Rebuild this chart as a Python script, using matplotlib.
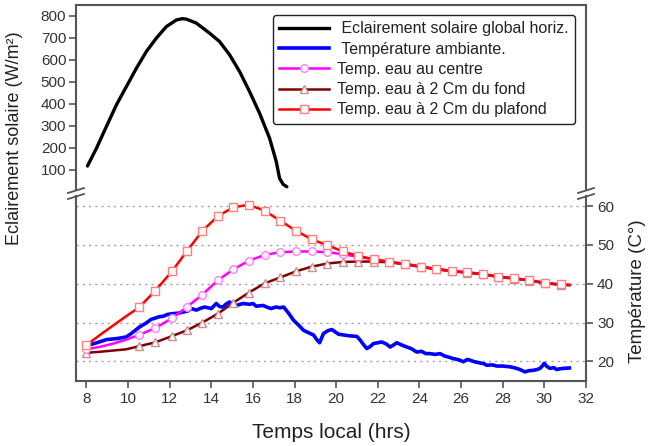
import numpy as np
import matplotlib
matplotlib.use('Agg')
import matplotlib.pyplot as plt
from matplotlib.lines import Line2D

plt.rcParams['font.family'] = ['Liberation Sans', 'DejaVu Sans']

# --- data ------------------------------------------------------------------
# global horizontal irradiance (W/m2)
t_sun = [8.05, 8.48, 8.96, 9.44, 9.92, 10.4, 10.88, 11.36, 11.84, 12.32, 12.6,
         12.8, 13.28, 13.92, 14.4, 14.88, 15.36, 15.84, 16.32, 16.8, 17.12,
         17.28, 17.45, 17.63]
g_sun = [118, 198, 297, 395, 478, 561, 637, 698, 750, 780, 786,
         784, 766, 720, 682, 622, 546, 455, 357, 244, 138,
         62, 35, 24]

# ambient temperature (C)
t_amb = [8.0, 8.5, 8.96, 9.5, 9.92, 10.16, 10.56, 10.88, 11.1, 11.28, 11.5,
         11.68, 11.9, 12.16, 12.4, 12.64, 12.88, 13.04, 13.28, 13.5, 13.68,
         14.0, 14.24, 14.4, 14.56, 14.72, 14.88, 15.04, 15.2, 15.52, 15.84,
         16.0, 16.16, 16.48, 16.7, 16.88, 17.1, 17.3, 17.47, 17.7, 17.95,
         18.2, 18.43, 18.7, 18.91, 19.05, 19.2, 19.39, 19.6, 19.79, 20.11,
         20.35, 20.6, 20.83, 21.0, 21.15, 21.3, 21.47, 21.65, 21.79, 22.0,
         22.19, 22.4, 22.59, 22.75, 22.91, 23.15, 23.39, 23.6, 23.87, 24.1,
         24.3, 24.51, 24.75, 24.99, 25.2, 25.4, 25.63, 25.9, 26.11, 26.3,
         26.43, 26.65, 26.91, 27.1, 27.23, 27.5, 27.71, 28.0, 28.35, 28.6,
         28.83, 29.07, 29.25, 29.47, 29.65, 29.79, 29.9, 29.99, 30.12, 30.27,
         30.45, 30.59, 30.75, 30.91, 31.2]
T_amb = [24.0, 24.8, 25.6, 25.9, 26.3, 27.2, 28.9, 29.9, 30.8, 31.1, 31.5,
         31.6, 32.1, 32.3, 32.4, 32.7, 33.0, 33.6, 33.2, 33.7, 34.0,
         33.6, 34.9, 34.1, 34.0, 34.8, 35.3, 34.6, 34.4, 34.9, 34.7,
         34.9, 34.2, 34.4, 33.9, 33.6, 34.0, 33.8, 34.0, 32.5, 30.6,
         29.3, 28.0, 27.3, 26.8, 25.7, 24.8, 27.2, 27.9, 28.2, 27.0,
         26.8, 26.6, 26.5, 26.4, 25.5, 24.4, 23.3, 23.9, 24.6, 24.8,
         25.0, 24.5, 23.7, 24.2, 24.8, 24.2, 23.7, 23.3, 22.4, 22.6,
         22.0, 22.0, 21.8, 22.0, 21.4, 21.1, 20.7, 20.4, 19.9, 20.5,
         20.3, 19.9, 19.6, 19.4, 19.0, 19.1, 18.8, 18.8, 18.6, 18.3,
         17.9, 17.3, 17.6, 17.7, 17.9, 18.2, 18.8, 19.5, 18.7, 18.2,
         18.4, 17.9, 18.1, 18.2, 18.3]

# times shared by the three water temperatures
t_w = [8.0, 8.7, 9.3, 9.9, 10.53, 11.31, 12.11, 12.83, 13.57, 14.32, 15.06,
       15.8, 16.56, 17.31, 18.08, 18.83, 19.58, 20.32, 21.07, 21.83, 22.56,
       23.31, 24.07, 24.8, 25.56, 26.3, 27.04, 27.79, 28.55, 29.28, 30.04,
       30.79, 31.2]
# red: 2 cm from the ceiling
T_top = [24.2, 27.0, 29.3, 31.6, 33.9, 38.2, 43.2, 48.4, 53.6, 57.4, 59.7,
         60.3, 58.8, 56.2, 53.6, 51.4, 49.9, 48.3, 47.1, 46.3, 45.6,
         45.1, 44.4, 43.8, 43.3, 42.9, 42.5, 41.8, 41.4, 40.9, 40.2,
         39.8, 39.7]
# magenta: centre
T_mid = [23.1, 23.8, 24.6, 25.6, 26.8, 28.6, 31.1, 34.0, 37.2, 40.9, 43.7,
         45.9, 47.4, 48.1, 48.3, 48.3, 48.1, 47.6, 46.9, 46.3, 45.6,
         45.1, 44.4, 43.8, 43.3, 42.9, 42.5, 41.8, 41.4, 40.9, 40.2,
         39.8, 39.7]
# brown: 2 cm from the bottom
T_bot = [22.2, 22.5, 22.8, 23.1, 23.9, 24.9, 26.5, 28.0, 30.0, 32.3, 35.1,
         37.7, 40.1, 41.6, 43.2, 44.4, 45.2, 45.6, 45.7, 45.7, 45.5,
         45.0, 44.3, 43.7, 43.2, 42.8, 42.4, 41.7, 41.3, 40.8, 40.1,
         39.7, 39.6]
# indices of the points that carry a marker
mk_idx = [0] + list(range(4, 32))

x_ticks = list(range(8, 33, 2))
g_ticks = list(range(100, 801, 100))
T_ticks = [20, 30, 40, 50, 60]

labels = [' Eclairement solaire global horiz.', ' Température ambiante.',
          'Temp. eau au centre', 'Temp. eau à 2 Cm du fond',
          'Temp. eau à 2 Cm du plafond']

# --- layout -----------------------------------------------------------------
W, H = 650, 446
fig = plt.figure(figsize=(W / 100, H / 100), dpi=100)

def fx(px):
    return px / W

def fy(py):
    return (H - py) / H

L, R = 76, 586
top_y0, top_y1 = 5, 190.5
bot_y0, bot_y1 = 196.5, 381

ax_top = fig.add_axes([fx(L), fy(top_y1), fx(R) - fx(L), fy(top_y0) - fy(top_y1)])
ax_bot = fig.add_axes([fx(L), fy(bot_y1), fx(R) - fx(L), fy(bot_y0) - fy(bot_y1)])

spine_c = '#555555'
tick_c = '#333333'
for ax in (ax_top, ax_bot):
    ax.set_xlim(7.5, 32)
    ax.set_facecolor('none')
    for s in ax.spines.values():
        s.set_color(spine_c)
        s.set_linewidth(1.5)

# top: irradiance
ax_top.set_ylim(7, 848)
ax_top.spines['bottom'].set_visible(False)
ax_top.set_xticks([])
ax_top.set_yticks(g_ticks)
ax_top.tick_params(axis='y', direction='out', length=5, width=1.2,
                   color=spine_c, labelcolor=tick_c, labelsize=11, pad=2)
ax_top.plot(t_sun, g_sun, color='black', lw=2.4, solid_capstyle='round')

# bottom: temperatures
ax_bot.set_ylim(14.95, 62.45)
ax_bot.spines['top'].set_visible(False)
ax_bot.yaxis.tick_right()
ax_bot.set_yticks(T_ticks)
ax_bot.set_xticks(x_ticks)
ax_bot.tick_params(axis='both', direction='out', length=5, width=1.2,
                   color=spine_c, labelcolor=tick_c, labelsize=11, pad=3)
for v in T_ticks:
    ax_bot.axhline(v, color='#a0a0a0', lw=1.0, ls=(0, (1.5, 3)), zorder=0)

ax_bot.plot(t_amb, T_amb, color='#0000ff', lw=2.6, zorder=3)
mk = dict(markersize=5.5, markerfacecolor='white', markeredgewidth=1.0)
ax_bot.plot(t_w, T_bot, color='#800000', lw=1.8, marker='^',
            markeredgecolor='#c89090', markevery=mk_idx, zorder=4, **mk)
ax_bot.plot(t_w, T_mid, color='#ff00ff', lw=1.8, marker='o',
            markeredgecolor='#ff80ff', markevery=mk_idx, zorder=5, **mk)
ax_bot.plot(t_w, T_top, color='#ff0000', lw=1.8, marker='s',
            markeredgecolor='#ff8080', markevery=mk_idx, zorder=6, **mk)

# break marks on both vertical spines
for xs in (L, R):
    for yy in (top_y1, bot_y0):
        fig.add_artist(Line2D([fx(xs - 8), fx(xs + 8)], [fy(yy + 2.5), fy(yy - 2.5)],
                              color=spine_c, lw=1.3))

# axis titles
fig.text(fx(15), fy(138), 'Eclairement solaire (W/m²)', rotation=90,
         ha='center', va='center', fontsize=13, color='#222222')
fig.text(fx(638), fy(291), 'Température (C°)', rotation=90,
         ha='center', va='center', fontsize=13.5, color='#222222')
fig.text(fx(331), fy(432), 'Temps local (hrs)', ha='center', va='center',
         fontsize=15, color='#222222')

# legend
handles = [
    Line2D([], [], color='black', lw=2.4),
    Line2D([], [], color='#0000ff', lw=2.6),
    Line2D([], [], color='#ff00ff', lw=1.8, marker='o', markeredgecolor='#ff80ff', **mk),
    Line2D([], [], color='#800000', lw=1.8, marker='^', markeredgecolor='#c89090', **mk),
    Line2D([], [], color='#ff0000', lw=1.8, marker='s', markeredgecolor='#ff8080', **mk),
]
leg = ax_top.legend(handles, labels, loc='upper right',
                    bbox_to_anchor=(fx(575), fy(15)), bbox_transform=fig.transFigure,
                    borderaxespad=0, fontsize=11.5, handlelength=3.1,
                    handletextpad=0.5, labelspacing=0.33, borderpad=0.4,
                    fancybox=True, framealpha=1, edgecolor='#222222')
leg.get_frame().set_linewidth(1.0)
for txt in leg.get_texts():
    txt.set_color('#222222')

fig.savefig('out.png', dpi=100)
